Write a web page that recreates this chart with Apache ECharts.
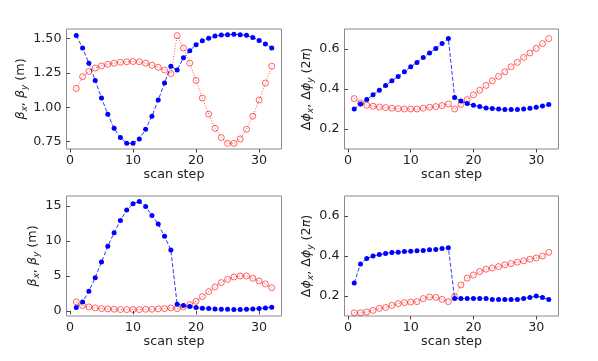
<!DOCTYPE html>
<html>
<head>
<meta charset="utf-8">
<script src="https://cdn.jsdelivr.net/npm/echarts@6/dist/echarts.min.js"></script>
<style>
  body { margin: 0; background: #fff; }
  #main { width: 598px; height: 361px; }
</style>
</head>
<body>
<div id="main"></div>
<script>
// scan steps
var steps = [1, 2, 3, 4, 5, 6, 7, 8, 9, 10, 11, 12, 13, 14, 15, 16,
             17, 18, 19, 20, 21, 22, 23, 24, 25, 26, 27, 28, 29, 30, 31, 32];

// top left: beta (m)
var betaTopX = [1.52, 1.43, 1.32, 1.195, 1.067, 0.95, 0.847, 0.78, 0.738, 0.738, 0.77, 0.84, 0.935, 1.052, 1.176, 1.298,
                1.27, 1.36, 1.41, 1.454, 1.483, 1.50, 1.517, 1.524, 1.527, 1.529, 1.527, 1.522, 1.507, 1.485, 1.46, 1.43];
var betaTopY = [1.137, 1.222, 1.26, 1.285, 1.30, 1.312, 1.32, 1.327, 1.33, 1.332, 1.33, 1.32, 1.305, 1.29, 1.27, 1.244,
                1.52, 1.43, 1.32, 1.195, 1.067, 0.95, 0.847, 0.78, 0.738, 0.738, 0.77, 0.84, 0.935, 1.052, 1.176, 1.298];

// top right: phase advance (2pi)
var phiTopX = [0.30, 0.325, 0.347, 0.371, 0.394, 0.418, 0.441, 0.463, 0.486, 0.511, 0.533, 0.558, 0.58, 0.603, 0.627, 0.652,
               0.357, 0.34, 0.327, 0.319, 0.312, 0.305, 0.302, 0.30, 0.297, 0.297, 0.297, 0.30, 0.304, 0.309, 0.315, 0.322];
var phiTopY = [0.352, 0.33, 0.319, 0.314, 0.31, 0.307, 0.304, 0.302, 0.30, 0.30, 0.30, 0.304, 0.309, 0.312, 0.317, 0.325,
               0.30, 0.323, 0.347, 0.371, 0.394, 0.418, 0.441, 0.463, 0.486, 0.511, 0.533, 0.558, 0.58, 0.603, 0.627, 0.652];

// bottom left: beta (m)
var betaBotX = [0.48, 1.29, 2.8, 4.76, 7.0, 9.24, 11.19, 12.95, 14.43, 15.33, 15.67, 14.95, 13.67, 12.43, 10.67, 8.71,
                0.95, 0.76, 0.62, 0.48, 0.38, 0.33, 0.29, 0.24, 0.24, 0.19, 0.19, 0.24, 0.29, 0.33, 0.43, 0.52];
var betaBotY = [1.29, 0.76, 0.57, 0.43, 0.33, 0.29, 0.24, 0.19, 0.19, 0.19, 0.19, 0.24, 0.24, 0.29, 0.33, 0.43,
                0.33, 0.57, 0.9, 1.38, 2.05, 2.76, 3.43, 4.05, 4.52, 4.86, 5.0, 5.0, 4.67, 4.29, 3.86, 3.33];

// bottom right: phase advance (2pi)
var phiBotX = [0.265, 0.36, 0.387, 0.40, 0.407, 0.412, 0.418, 0.419, 0.423, 0.424, 0.426, 0.428, 0.431, 0.433, 0.438, 0.441,
               0.187, 0.187, 0.187, 0.188, 0.188, 0.187, 0.183, 0.182, 0.182, 0.182, 0.183, 0.187, 0.193, 0.20, 0.193, 0.182];
var phiBotY = [0.116, 0.116, 0.12, 0.128, 0.138, 0.143, 0.153, 0.162, 0.167, 0.17, 0.172, 0.187, 0.195, 0.193, 0.183, 0.172,
               0.197, 0.255, 0.289, 0.305, 0.322, 0.334, 0.34, 0.347, 0.356, 0.362, 0.369, 0.376, 0.384, 0.39, 0.40, 0.418];

var xTicks = [0, 10, 20, 30];
var betaTopTicks = [0.75, 1.00, 1.25, 1.50];
var phiTicks = [0.2, 0.4, 0.6];
var betaBotTicks = [0, 5, 10, 15];

var myChart = echarts.init(document.getElementById('main'));
var FONT = 'DejaVu Sans';

function pairs(ys) {
    return steps.map(function (s, i) { return [s, ys[i]]; });
}

var nameRich = {
    g: { fontFamily: FONT, fontSize: 12.7, fontStyle: 'italic', color: '#222', lineHeight: 18 },
    u: { fontFamily: FONT, fontSize: 12.7, color: '#222', lineHeight: 18 },
    t: { fontFamily: FONT, fontSize: 12.7, color: '#222', lineHeight: 18 },
    s: { fontFamily: FONT, fontSize: 9, fontStyle: 'italic', color: '#222', verticalAlign: 'bottom', lineHeight: 18 }
};
var betaName = '{g|β}{s|x}{t|, }{g|β}{s|y}{t| (m)}';
var phiName = '{u|Δ}{g|ϕ}{s|x}{t|, }{u|Δ}{g|ϕ}{s|y}{t| (2}{g|π}{t|)}';

var grids = [
    { left: 66.5, top: 29, width: 215, height: 120 },
    { left: 344.5, top: 29, width: 214, height: 120 },
    { left: 66.5, top: 196, width: 215, height: 120 },
    { left: 344.5, top: 196, width: 214, height: 120 }
];
grids.forEach(function (g) {
    g.show = true;
    g.borderColor = '#8a8a8a';
    g.borderWidth = 1;
    g.backgroundColor = 'transparent';
});

function xAxis(idx) {
    return {
        type: 'value', gridIndex: idx, min: -0.55, max: 33.55,
        name: 'scan step', nameLocation: 'middle', nameGap: 18,
        nameTextStyle: { fontFamily: FONT, fontSize: 12.7, color: '#222' },
        axisLine: { show: false },
        axisTick: { show: true, length: 3.5, customValues: xTicks, lineStyle: { color: '#444' } },
        axisLabel: { customValues: xTicks, fontFamily: FONT, fontSize: 12.7, color: '#222', margin: 5 },
        splitLine: { show: false }
    };
}

function yAxis(idx, min, max, ticks, digits, name, gap) {
    return {
        type: 'value', gridIndex: idx, min: min, max: max,
        name: name, nameLocation: 'middle', nameGap: gap, nameRotate: 90,
        nameTextStyle: { rich: nameRich },
        axisLine: { show: false },
        axisTick: { show: true, length: 3.5, customValues: ticks, lineStyle: { color: '#444' } },
        axisLabel: {
            customValues: ticks, fontFamily: FONT, fontSize: 12.7, color: '#222', margin: 5,
            formatter: function (v) { return v.toFixed(digits); }
        },
        splitLine: { show: false }
    };
}

function blueSeries(idx, ys) {
    return {
        type: 'line', xAxisIndex: idx, yAxisIndex: idx, data: pairs(ys),
        symbol: 'circle', symbolSize: 5,
        itemStyle: { color: '#0000ff' },
        lineStyle: { color: 'rgba(0,0,255,0.8)', width: 1, type: [4, 2] },
        z: 3
    };
}

function redSeries(idx, ys) {
    return {
        type: 'line', xAxisIndex: idx, yAxisIndex: idx, data: pairs(ys),
        symbol: 'circle', symbolSize: 6,
        itemStyle: { color: 'rgba(255,255,255,0)', borderColor: 'rgba(255,0,0,0.6)', borderWidth: 1 },
        lineStyle: { color: 'rgba(255,0,0,0.65)', width: 1, type: [1, 1.7] },
        z: 2
    };
}

var option = {
    animation: false,
    backgroundColor: '#fff',
    grid: grids,
    xAxis: [xAxis(0), xAxis(1), xAxis(2), xAxis(3)],
    yAxis: [
        yAxis(0, 0.697, 1.568, betaTopTicks, 2, betaName, 31.5),
        yAxis(1, 0.1, 0.7, phiTicks, 1, phiName, 22),
        yAxis(2, -0.73, 16.45, betaBotTicks, 0, betaName, 19.5),
        yAxis(3, 0.1, 0.7, phiTicks, 1, phiName, 22)
    ],
    series: [
        redSeries(0, betaTopY), blueSeries(0, betaTopX),
        redSeries(1, phiTopY), blueSeries(1, phiTopX),
        redSeries(2, betaBotY), blueSeries(2, betaBotX),
        redSeries(3, phiBotY), blueSeries(3, phiBotX)
    ]
};

myChart.setOption(option);
</script>
</body>
</html>
